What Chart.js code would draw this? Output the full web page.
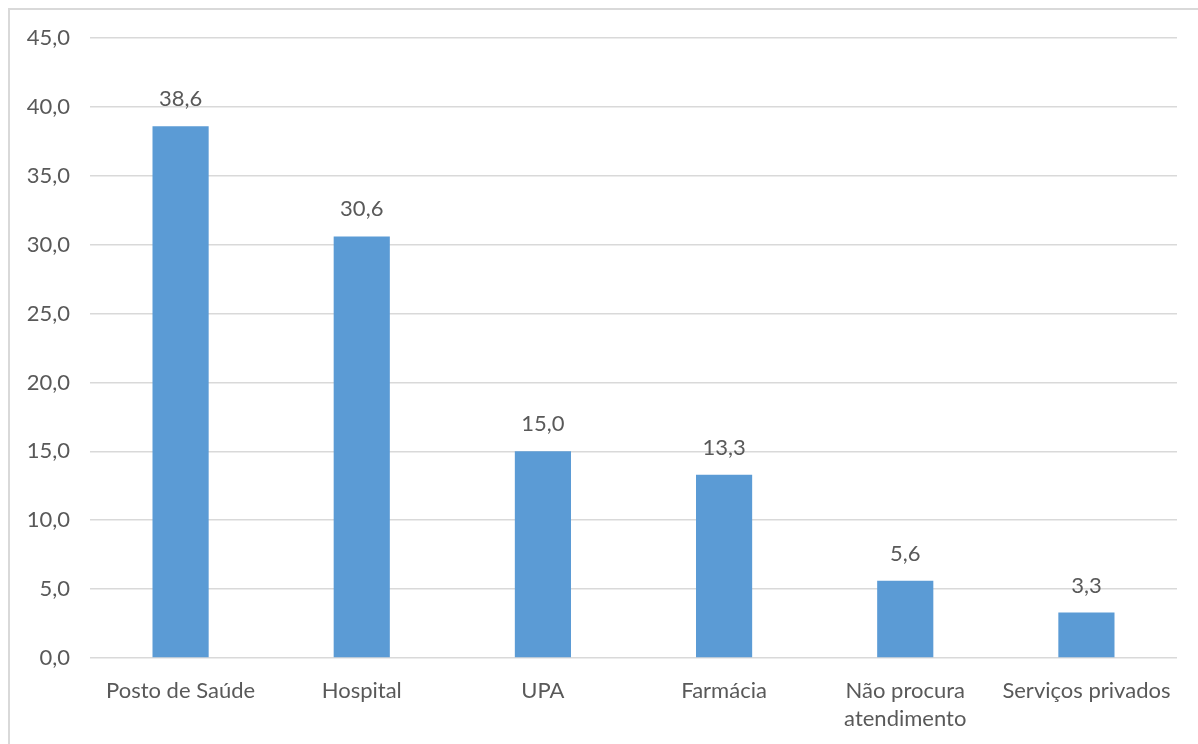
<!DOCTYPE html>
<html>
<head>
<meta charset="utf-8">
<script src="https://cdn.jsdelivr.net/npm/chart.js@4"></script>
<style>
  html, body { margin: 0; padding: 0; background: #fff; }
  #frame {
    position: absolute; left: 8px; top: 8px; width: 1190px; height: 736px;
    border-top: 2px solid #d9d9d9; border-left: 2px solid #d9d9d9;
    box-sizing: border-box;
  }
  #wrap { position: absolute; left: 0; top: 0; width: 1198px; height: 744px; }
</style>
</head>
<body>
<div id="frame"></div>
<div id="wrap"><canvas id="bars" width="1198" height="744"></canvas></div>
<script>
const categories = ["Posto de Saúde", "Hospital", "UPA", "Farmácia", ["Não procura", "atendimento"], "Serviços privados"];
const percentValues = [38.6, 30.6, 15.0, 13.3, 5.6, 3.3];
const yMin = 0, yMax = 45, yStep = 5;

const fmt = v => v.toFixed(1).replace('.', ',');
const textColor = "#595959";
const fontFamily = "Lato, 'Open Sans', sans-serif";

// draws the value above each bar
const valueLabels = {
    id: 'valueLabels',
    afterDatasetsDraw(chart) {
        const ctx = chart.ctx;
        const meta = chart.getDatasetMeta(0);
        ctx.save();
        ctx.font = "22px " + fontFamily;
        ctx.fillStyle = textColor;
        ctx.textAlign = 'center';
        ctx.textBaseline = 'middle';
        meta.data.forEach((bar, i) => {
            ctx.fillText(fmt(percentValues[i]), bar.x, bar.y - 27);
        });
        ctx.restore();
    }
};

Chart.defaults.font.family = fontFamily;
Chart.defaults.color = textColor;

new Chart("bars", {
    type: "bar",
    data: {
        labels: categories,
        datasets: [{
            data: percentValues,
            backgroundColor: "#5B9BD5",
            borderWidth: 0,
            categoryPercentage: 1,
            barPercentage: 0.31
        }]
    },
    options: {
        responsive: false,
        animation: false,
        layout: { padding: { left: 10, right: 21, top: 38, bottom: 0 } },
        plugins: { legend: { display: false }, tooltip: { enabled: false } },
        scales: {
            x: {
                grid: { display: false },
                border: { display: false },
                ticks: { font: { size: 22, lineHeight: 1.27 }, color: textColor, padding: 11, maxRotation: 0, autoSkip: false },
                afterFit(scale) { scale.height = 744 - 658; }
            },
            y: {
                min: yMin, max: yMax,
                grid: { color: "#d9d9d9", lineWidth: 1.5, drawTicks: false },
                border: { display: false },
                ticks: { stepSize: yStep, font: { size: 22 }, color: textColor, padding: 20, callback: v => fmt(v) },
                afterFit(scale) { scale.width = 80; }
            }
        }
    },
    plugins: [valueLabels]
});
</script>
</body>
</html>
